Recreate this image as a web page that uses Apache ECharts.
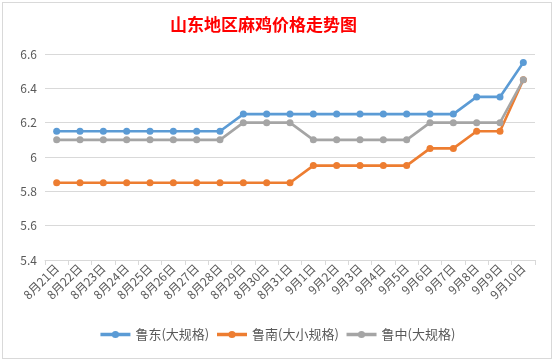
<!DOCTYPE html>
<html><head><meta charset="utf-8">
<script src="https://cdn.jsdelivr.net/npm/echarts@6/dist/echarts.min.js"></script>
<style>
html,body{margin:0;padding:0;background:#fff;}
#frame{position:absolute;left:2px;top:2px;width:548px;height:355px;border:1px solid #d9d9d9;background:#fff;}
#c{width:548px;height:355px;}
</style></head>
<body><div id="frame"><div id="c"></div></div>
<script>
const categories = ['8月21日','8月22日','8月23日','8月24日','8月25日','8月26日','8月27日','8月28日','8月29日','8月30日','8月31日','9月1日','9月2日','9月3日','9月4日','9月5日','9月6日','9月7日','9月8日','9月9日','9月10日'];
const ludong = [6.15,6.15,6.15,6.15,6.15,6.15,6.15,6.15,6.25,6.25,6.25,6.25,6.25,6.25,6.25,6.25,6.25,6.25,6.35,6.35,6.55];
const lunan = [5.85,5.85,5.85,5.85,5.85,5.85,5.85,5.85,5.85,5.85,5.85,5.95,5.95,5.95,5.95,5.95,6.05,6.05,6.15,6.15,6.45];
const luzhong = [6.1,6.1,6.1,6.1,6.1,6.1,6.1,6.1,6.2,6.2,6.2,6.1,6.1,6.1,6.1,6.1,6.2,6.2,6.2,6.2,6.45];
const seriesNames = ['鲁东(大规格)','鲁南(大小规格)','鲁中(大规格)'];
const colors = ['#5B9BD5','#ED7D31','#A5A5A5'];

const chart = echarts.init(document.getElementById('c'));
const font = '"Microsoft YaHei","Noto Sans CJK SC",sans-serif';
function mk(name, data, color){
  return {name, type:'line', data, color, symbol:'circle', symbolSize:7,
    lineStyle:{width:2.6, color}, itemStyle:{color}};
}
chart.setOption({
  animation:false,
  textStyle:{fontFamily:font},
  title:{text:'山东地区麻鸡价格走势图', left:162, top:8,
    textStyle:{color:'#FF0000', fontSize:17, fontWeight:'bold', fontFamily:font}},
  grid:{left:42, right:16, top:51, bottom:98},
  legend:{bottom:12, left:'center', itemWidth:30, itemHeight:9, itemGap:6,
    lineStyle:{width:3.5},
    textStyle:{color:'#595959', fontSize:13, fontFamily:font},
    data:seriesNames},
  xAxis:{type:'category', data:categories, boundaryGap:true,
    axisLine:{lineStyle:{color:'#D9D9D9'}},
    axisTick:{show:true, length:5, lineStyle:{color:'#D9D9D9'}},
    axisLabel:{rotate:45, color:'#595959', fontSize:12, margin:6, interval:0, fontFamily:font}},
  yAxis:{type:'value', min:5.4, max:6.6, interval:0.2,
    axisLine:{show:false}, axisTick:{show:false},
    splitLine:{lineStyle:{color:'#D9D9D9'}},
    axisLabel:{color:'#595959', fontSize:12, margin:8, fontFamily:font,
      formatter:v=>String(parseFloat(v.toFixed(1)))}},
  series:[mk(seriesNames[0], ludong, colors[0]), mk(seriesNames[1], lunan, colors[1]), mk(seriesNames[2], luzhong, colors[2])]
});
</script></body></html>
